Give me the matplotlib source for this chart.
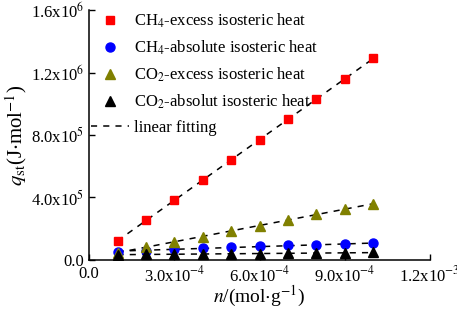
import numpy as np
import matplotlib
matplotlib.use('Agg')
import matplotlib.pyplot as plt

plt.rcParams['font.family'] = ['Liberation Serif', 'DejaVu Serif']
plt.rcParams['mathtext.fontset'] = 'stix'

# loading n (mol/g)
n = [1e-4, 2e-4, 3e-4, 4e-4, 5e-4, 6e-4, 7e-4, 8e-4, 9e-4, 1e-3]
# isosteric heat (J/mol)
ch4_excess = [1.22e5, 2.53e5, 3.85e5, 5.1e5, 6.4e5, 7.7e5, 9.0e5, 1.03e6, 1.16e6, 1.29e6]
ch4_absolute = [5.3e4, 6.0e4, 6.8e4, 7.7e4, 8.5e4, 9.0e4, 9.3e4, 9.5e4, 1.0e5, 1.06e5]
co2_excess = [4.5e4, 8.5e4, 1.17e5, 1.5e5, 1.87e5, 2.18e5, 2.56e5, 2.94e5, 3.24e5, 3.6e5]
co2_absolut = [3.5e4, 3.6e4, 3.7e4, 3.8e4, 3.9e4, 4.0e4, 4.2e4, 4.4e4, 4.6e4, 4.9e4]

labels = ['CH$_4$-excess isosteric heat', 'CH$_4$-absolute isosteric heat',
          'CO$_2$-excess isosteric heat', 'CO$_2$-absolut isosteric heat']
series = [ch4_excess, ch4_absolute, co2_excess, co2_absolut]
markers = ['s', 'o', '^', '^']
colors = ['#ff0000', '#0000ff', '#808000', '#000000']
msizes = [5.5, 6.5, 6.5, 6.5]

xticks = [0, 3e-4, 6e-4, 9e-4, 1.2e-3]
xticklabels = ['0.0', '3.0x10$^{-4}$', '6.0x10$^{-4}$', '9.0x10$^{-4}$', '1.2x10$^{-3}$']
yticks = [0, 4e5, 8e5, 1.2e6, 1.6e6]
yticklabels = ['0.0', '4.0x10$^{5}$', '8.0x10$^{5}$', '1.2x10$^{6}$', '1.6x10$^{6}$']

fig = plt.figure(figsize=(4.57, 3.09), dpi=100)
ax = fig.add_axes([0.195, 0.1586, 0.746, 0.809])

x = np.array(n)
fit_line = None
for ys in series:
    k, b = np.polyfit(x, ys, 1)
    fit_line, = ax.plot(x, k * x + b, color='black', lw=1.1, ls=(0, (4, 4)), zorder=2)

handles = []
for ys, m, c, ms, lab in zip(series, markers, colors, msizes, labels):
    h, = ax.plot(n, ys, ls='none', marker=m, color=c, ms=ms, zorder=3, label=lab)
    handles.append(h)
fit_line.set_label('linear fitting')
handles.append(fit_line)

ax.set_xlim(0, 1.2e-3)
ax.set_ylim(0, 1.6e6)
ax.set_xticks(xticks)
ax.set_xticklabels(xticklabels)
ax.set_yticks(yticks)
ax.set_yticklabels(yticklabels)
ax.tick_params(direction='in', length=4, width=1, labelsize=12)
ax.tick_params(axis='x', pad=4)
ax.spines['top'].set_visible(False)
ax.spines['right'].set_visible(False)
for s in ['left', 'bottom']:
    ax.spines[s].set_linewidth(1.1)

ax.set_xlabel('$n$/(mol$\\cdot$g$^{-1}$)', fontsize=14, labelpad=-1)
ax.set_ylabel('$q_{\\rm st}$(J$\\cdot$mol$^{-1}$)', fontsize=15, labelpad=1)

ax.legend(handles=handles, loc='upper left', bbox_to_anchor=(0.0, 1.0), frameon=False,
          fontsize=12, handlelength=2.3, handletextpad=0.3, labelspacing=0.52,
          borderaxespad=0, borderpad=0.1)

fig.savefig('out.png', dpi=100)
